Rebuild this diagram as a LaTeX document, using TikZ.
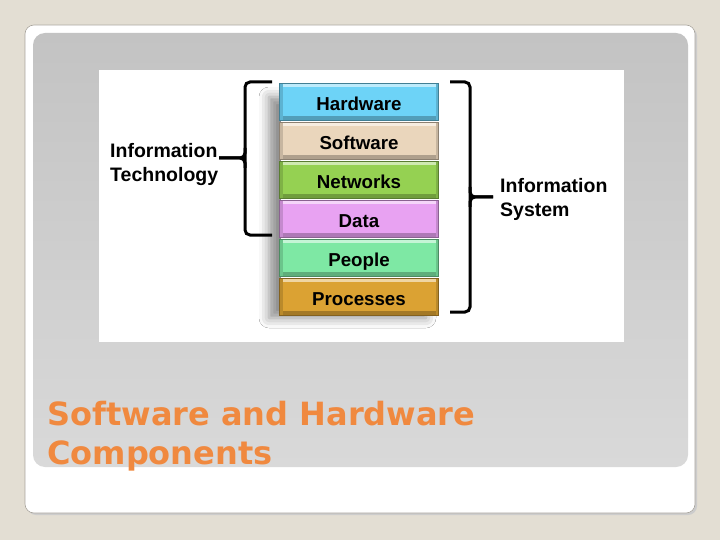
\documentclass[tikz,border=0pt]{standalone}
\usepackage{fontspec}
\setmainfont{Liberation Sans}
\newfontfamily\labelfont{Liberation Sans}
\newfontfamily\titlefont{DejaVu Sans}
\usetikzlibrary{shadows,shadows.blur,positioning}
\definecolor{slidebg}{HTML}{E3DED3}
\definecolor{cardedge}{HTML}{A8A49C}
\definecolor{paneltop}{HTML}{C3C3C3}
\definecolor{panelbot}{HTML}{D9D9D9}
\definecolor{titleorange}{HTML}{F0893F}
\definecolor{hwblue}{HTML}{6DD3F7}
\definecolor{swtan}{HTML}{EAD6BC}
\definecolor{netgreen}{HTML}{95D152}
\definecolor{datapink}{HTML}{E8A2F2}
\definecolor{pplgreen}{HTML}{7EE8A4}
\definecolor{procgold}{HTML}{DBA233}
\tikzset{
  layer/.style={fill=#1, draw=#1!60!black, line width=0.5pt,
    minimum width=159pt, minimum height=37pt, inner sep=0pt,
    text height=18pt, text depth=0pt,
    path picture={
      \fill[#1!45!white] (path picture bounding box.north west) rectangle ([yshift=-4pt]path picture bounding box.north east);
      \fill[#1!75!black] (path picture bounding box.south west) rectangle ([yshift=4pt]path picture bounding box.south east);
      \fill[#1!85!black] (path picture bounding box.south west) rectangle ([xshift=3pt]path picture bounding box.north west);
      \fill[#1!85!black] (path picture bounding box.south east) rectangle ([xshift=-3pt]path picture bounding box.north east);
    },
    font=\labelfont\bfseries\fontsize{18.7}{21}\selectfont},
  sidelabel/.style={align=left, inner sep=0pt,
    font=\labelfont\bfseries\fontsize{19.5}{23.5}\selectfont},
  brace/.style={line width=3pt, black, rounded corners=5pt}
}
\begin{document}
\begin{tikzpicture}[x=1pt, y=-1pt]
    \useasboundingbox (0,0) rectangle (720,540);
    \fill[slidebg] (0,0) rectangle (720,540);
    % slide card and grey panel
    \fill[gray!40, rounded corners=9pt] (27,27) rectangle (697,515);
    \filldraw[fill=white, draw=cardedge, line width=0.6pt, rounded corners=9pt] (25,25) rectangle (695,513);
    \shade[top color=paneltop, bottom color=panelbot, rounded corners=12pt] (33,33) rectangle (688,467);
    \fill[white] (99,70) rectangle (624,342);

    % soft shadow behind the stack
    \fill[white, blur shadow={shadow xshift=-12pt, shadow yshift=-7pt,
      shadow blur radius=10pt, shadow opacity=45}] (281,90) rectangle (438,311);

    % the six layers
    \node[layer=hwblue] (hw) at (359,102) {Hardware};
    \node[layer=swtan, below=1.4pt of hw] (sw) {Software};
    \node[layer=netgreen, below=1.4pt of sw] (net) {Networks};
    \node[layer=datapink, below=1.4pt of net] (data) {Data};
    \node[layer=pplgreen, below=1.4pt of data] (ppl) {People};
    \node[layer=procgold, below=1.4pt of ppl] (proc) {Processes};

    % side labels
    \node[sidelabel, anchor=north west] (itlabel) at (110,143.5) {Information\\Technology};
    \node[sidelabel, anchor=north west] (islabel) at (500,178.5) {Information\\System};
    \coordinate (itTip) at (219,158);
    \coordinate (isTip) at (493,197);

    % brackets
    \draw[brace] (272,82) -- (245,82) -- (245,235) -- (272,235);
    \draw[brace] (245,148) |- (itTip);
    \draw[brace] (245,168) |- (itTip);
    \draw[brace] (450,82) -- (470,82) -- (470,312) -- (450,312);
    \draw[brace] (470,187) |- (isTip);
    \draw[brace] (470,207) |- (isTip);

    % title
    \node[anchor=north west, align=left, inner sep=0pt, text=titleorange,
      font=\titlefont\bfseries\fontsize{32}{39}\selectfont] (title) at (47,401)
      {Software and Hardware\\Components};
  \end{tikzpicture}
\end{document}
